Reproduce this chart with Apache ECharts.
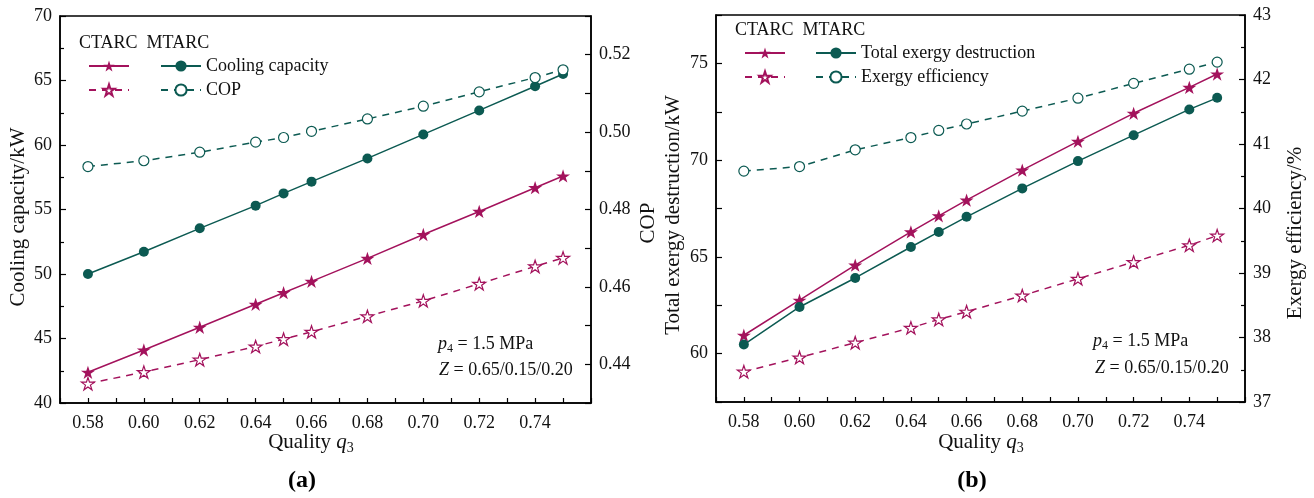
<!DOCTYPE html>
<html>
<head>
<meta charset="utf-8">
<script src="https://cdn.jsdelivr.net/npm/echarts@6/dist/echarts.min.js"></script>
<style>
  html, body { margin: 0; padding: 0; background: #fff; }
  #chart { width: 1314px; height: 498px; }
</style>
</head>
<body>
<div id="chart"></div>
<script>
// Vapour quality at the separator outlet
const quality = [0.58, 0.60, 0.62, 0.64, 0.65, 0.66, 0.68, 0.70, 0.72, 0.74, 0.75];

// (a) Cooling capacity (kW) and COP
const coolingCTARC = [42.38, 44.11, 45.87, 47.65, 48.55, 49.43, 51.21, 53.06, 54.85, 56.69, 57.60];
const coolingMTARC = [50.00, 51.73, 53.54, 55.30, 56.25, 57.16, 58.96, 60.82, 62.68, 64.55, 65.50];
const copCTARC = [0.4350, 0.4380, 0.4412, 0.4446, 0.4465, 0.4484, 0.4524, 0.4564, 0.4608, 0.4653, 0.4675];
const copMTARC = [0.4911, 0.4926, 0.4948, 0.4974, 0.4986, 0.5002, 0.5034, 0.5067, 0.5104, 0.5141, 0.5161];

// (b) Total exergy destruction (kW) and exergy efficiency (%)
const exdCTARC = [60.95, 62.76, 64.57, 66.29, 67.12, 67.93, 69.48, 70.97, 72.42, 73.76, 74.45];
const exdMTARC = [60.47, 62.41, 63.91, 65.51, 66.29, 67.07, 68.54, 69.95, 71.29, 72.62, 73.22];
const exeffCTARC = [37.47, 37.69, 37.92, 38.15, 38.28, 38.40, 38.65, 38.91, 39.17, 39.43, 39.58];
const exeffMTARC = [40.58, 40.65, 40.91, 41.10, 41.21, 41.31, 41.51, 41.71, 41.94, 42.16, 42.27];

const xTickLabels = ['0.58', '0.60', '0.62', '0.64', '0.66', '0.68', '0.70', '0.72', '0.74'];
const copTickLabels = ['0.44', '0.46', '0.48', '0.50', '0.52'];

const MAGENTA = '#a3125c';
const TEAL = '#0c5a52';
const FONT = '"Liberation Serif", "Times New Roman", serif';
const STAR = 'path://M50,0 L61.2,34.5 L97.6,34.5 L68.2,55.9 L79.4,90.5 L50,69.1 L20.6,90.5 L31.8,55.9 L2.4,34.5 L38.8,34.5 Z';

const pair = arr => arr.map((v, i) => [quality[i], v]);

const chart = echarts.init(document.getElementById('chart'), null, { renderer: 'canvas' });

function xAxis(gridIndex) {
  return {
    type: 'value', gridIndex, min: 0.57, max: 0.76, interval: 0.01,
    axisLine: { show: true, onZero: false, lineStyle: { color: '#000', width: 1.5 } },
    axisTick: { show: true, inside: true, length: 5, lineStyle: { color: '#000', width: 1.2 } },
    splitLine: { show: false },
    axisLabel: {
      margin: 11, color: '#111', fontFamily: FONT, fontSize: 18,
      formatter: v => {
        const s = v.toFixed(2);
        return xTickLabels.includes(s) ? s : '';
      }
    }
  };
}

function yAxis(gridIndex, position, min, max, interval, formatter, minor) {
  return {
    type: 'value', gridIndex, position, min, max, interval,
    axisLine: { show: true, onZero: false, lineStyle: { color: '#000', width: 1.5 } },
    axisTick: { show: true, inside: true, length: 6, lineStyle: { color: '#000', width: 1.2 } },
    minorTick: minor ? { show: true, splitNumber: 2, length: 4, lineStyle: { color: '#000', width: 1.2 } } : { show: false },
    splitLine: { show: false },
    axisLabel: { margin: 8, color: '#111', fontFamily: FONT, fontSize: 18, formatter }
  };
}

function line(name, xi, yi, data, color, filled, dashed, symbol, size) {
  return {
    name, type: 'line', xAxisIndex: xi, yAxisIndex: yi,
    data: pair(data),
    symbol, symbolSize: size, symbolKeepAspect: true, showAllSymbol: true,
    lineStyle: { color, width: 1.5, type: dashed ? [7, 6] : 'solid' },
    itemStyle: { color: filled ? color : '#fff', borderColor: color, borderWidth: filled ? 0 : 1.2 },
    emphasis: { disabled: true },
    z: 3
  };
}

const legendBase = {
  orient: 'vertical', itemWidth: 40, itemHeight: 14, itemGap: 6,
  selectedMode: false,
  textStyle: { fontFamily: FONT, fontSize: 18, color: '#111', lineHeight: 18 }
};

const displayName = {
  'MTARC Cooling capacity': 'Cooling capacity',
  'MTARC COP': 'COP',
  'MTARC Total exergy destruction': 'Total exergy destruction',
  'MTARC Exergy efficiency': 'Exergy efficiency'
};

function text(x, y, content, opts) {
  return Object.assign({
    type: 'text', x, y,
    style: Object.assign({
      text: content, fontFamily: FONT, fontSize: 18, fill: '#111',
      align: 'left', verticalAlign: 'middle'
    }, opts && opts.style)
  }, opts && opts.el);
}

const sub = {
  n: { fontFamily: FONT, fontSize: 18, fill: '#111' },
  i: { fontFamily: FONT, fontSize: 18, fontStyle: 'italic', fill: '#111' },
  s: { fontFamily: FONT, fontSize: 12, fill: '#111', padding: [10, 0, 0, 0] }
};
const subTitle = {
  n: { fontFamily: FONT, fontSize: 21, fill: '#111' },
  i: { fontFamily: FONT, fontSize: 21, fontStyle: 'italic', fill: '#111' },
  s: { fontFamily: FONT, fontSize: 14, fill: '#111', padding: [12, 0, 0, 0] }
};

const option = {
  animation: false,
  backgroundColor: '#fff',
  grid: [
    { left: 60, top: 16, width: 531, height: 387, show: true, borderColor: '#000', borderWidth: 1.5 },
    { left: 716, top: 15, width: 529, height: 387, show: true, borderColor: '#000', borderWidth: 1.5 }
  ],
  xAxis: [xAxis(0), xAxis(1)],
  yAxis: [
    yAxis(0, 'left', 40, 70, 5, v => String(v), true),
    yAxis(0, 'right', 0.43, 0.53, 0.01, v => {
      const s = v.toFixed(2);
      return copTickLabels.includes(s) ? s : '';
    }, false),
    yAxis(1, 'left', 57.5, 77.5, 2.5, v => (Math.abs(v % 5) < 1e-6 ? String(v) : ''), false),
    yAxis(1, 'right', 37, 43, 1, v => String(v), true)
  ],
  legend: [
    Object.assign({}, legendBase, { left: 83, top: 52, data: ['CTARC Cooling capacity', 'CTARC COP'], formatter: () => ' ' }),
    Object.assign({}, legendBase, { left: 155, top: 52, data: ['MTARC Cooling capacity', 'MTARC COP'], formatter: n => displayName[n] }),
    Object.assign({}, legendBase, { left: 739, top: 39, data: ['CTARC Total exergy destruction', 'CTARC Exergy efficiency'], formatter: () => ' ' }),
    Object.assign({}, legendBase, { left: 810, top: 39, data: ['MTARC Total exergy destruction', 'MTARC Exergy efficiency'], formatter: n => displayName[n] })
  ],
  series: [
    line('CTARC Cooling capacity', 0, 0, coolingCTARC, MAGENTA, true, false, STAR, 14),
    line('MTARC Cooling capacity', 0, 0, coolingMTARC, TEAL, true, false, 'circle', 10),
    line('CTARC COP', 0, 1, copCTARC, MAGENTA, false, true, STAR, 13),
    line('MTARC COP', 0, 1, copMTARC, TEAL, false, true, 'circle', 10),
    line('CTARC Total exergy destruction', 1, 2, exdCTARC, MAGENTA, true, false, STAR, 14),
    line('MTARC Total exergy destruction', 1, 2, exdMTARC, TEAL, true, false, 'circle', 10),
    line('CTARC Exergy efficiency', 1, 3, exeffCTARC, MAGENTA, false, true, STAR, 13),
    line('MTARC Exergy efficiency', 1, 3, exeffMTARC, TEAL, false, true, 'circle', 10)
  ],
  graphic: [
    // legend column headers
    text(79, 43, 'CTARC  MTARC'),
    text(735, 30, 'CTARC  MTARC'),
    // operating condition notes
    text(438, 344, '{i|p}{s|4}{n| = 1.5 MPa}', { style: { rich: sub } }),
    text(439, 370, '{i|Z}{n| = 0.65/0.15/0.20}', { style: { rich: sub } }),
    text(1093, 341, '{i|p}{s|4}{n| = 1.5 MPa}', { style: { rich: sub } }),
    text(1095, 368, '{i|Z}{n| = 0.65/0.15/0.20}', { style: { rich: sub } }),
    // x-axis titles
    text(311, 442, '{n|Quality }{i|q}{s|3}', { style: { align: 'center', rich: subTitle } }),
    text(981, 442, '{n|Quality }{i|q}{s|3}', { style: { align: 'center', rich: subTitle } }),
    // y-axis titles
    text(18, 217, 'Cooling capacity/kW', { style: { align: 'center', fontSize: 21 }, el: { rotation: Math.PI / 2 } }),
    text(648, 223, 'COP', { style: { align: 'center', fontSize: 21 }, el: { rotation: Math.PI / 2 } }),
    text(673, 215, 'Total exergy destruction/kW', { style: { align: 'center', fontSize: 21 }, el: { rotation: Math.PI / 2 } }),
    text(1295, 233, 'Exergy efficiency/%', { style: { align: 'center', fontSize: 21 }, el: { rotation: Math.PI / 2 } }),
    // panel tags
    text(302, 481, '(a)', { style: { align: 'center', fontSize: 24, fontWeight: 'bold', fill: '#000' } }),
    text(972, 481, '(b)', { style: { align: 'center', fontSize: 24, fontWeight: 'bold', fill: '#000' } })
  ]
};

chart.setOption(option);
</script>
</body>
</html>
